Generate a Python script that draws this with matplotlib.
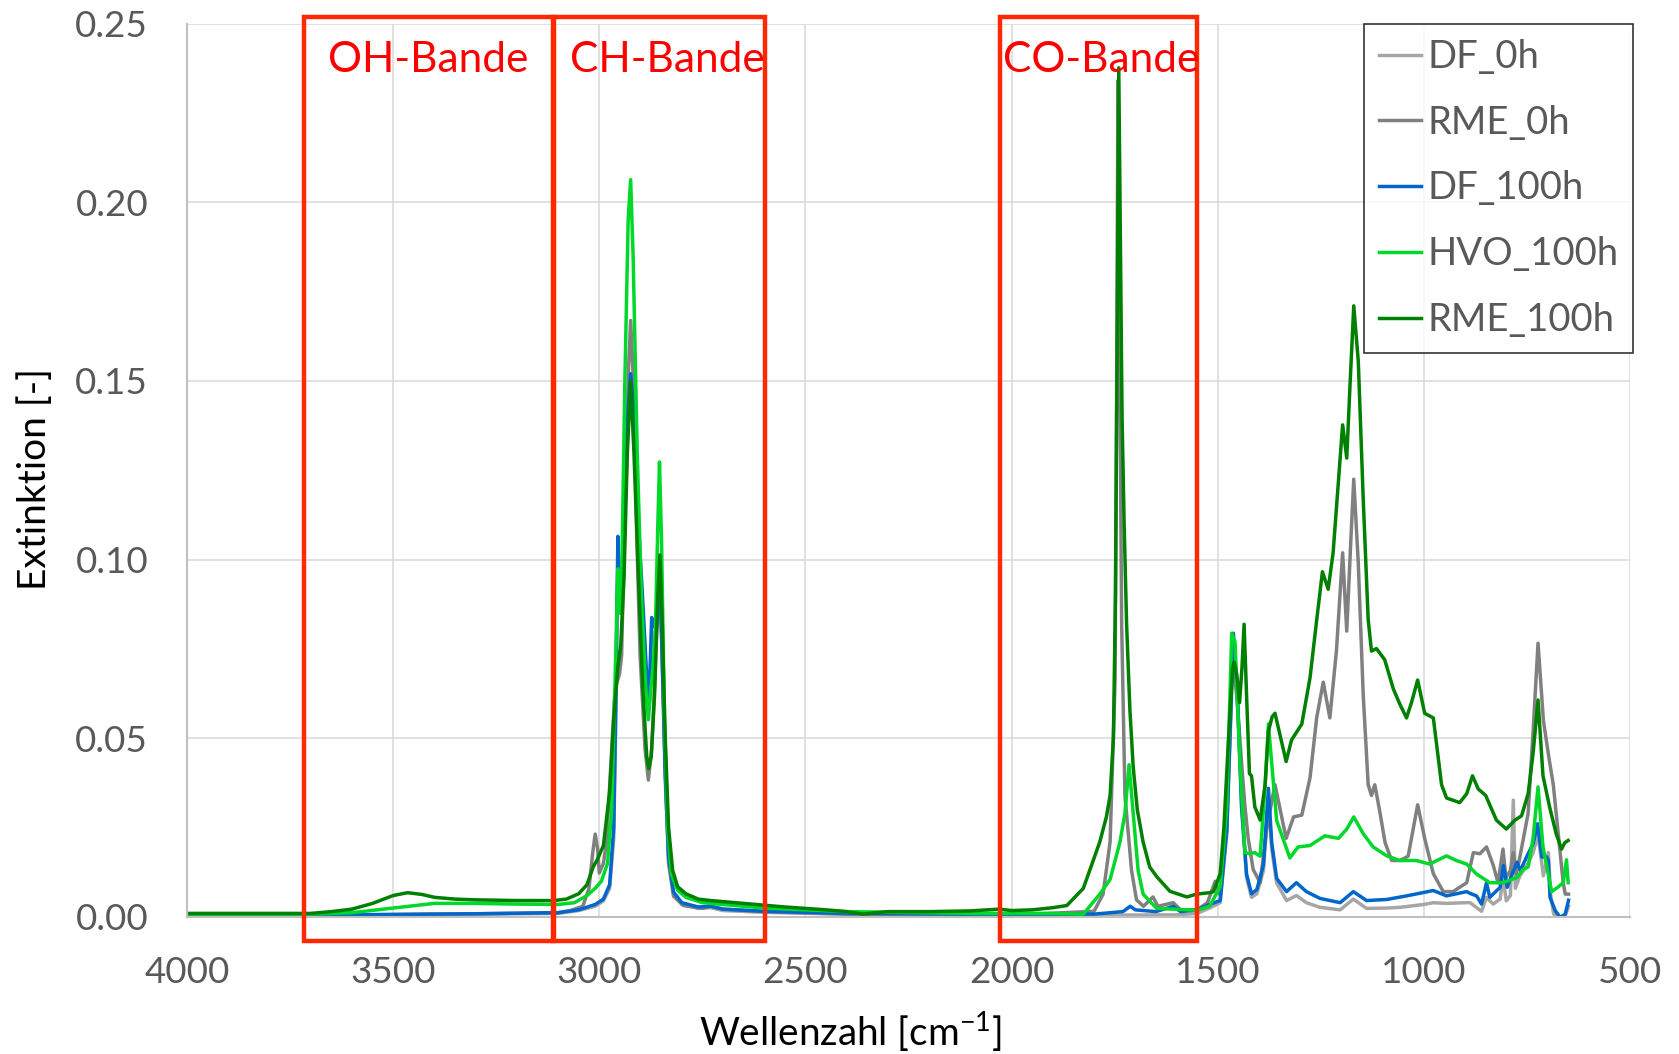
import numpy as np
import matplotlib
matplotlib.use('Agg')
import matplotlib.pyplot as plt
from matplotlib.patches import Rectangle

# spectra: (Wellenzahl [cm-1], Extinktion [-])
DF_0H = [
    (4000, 0.0004), (3700, 0.0004), (3500, 0.0006), (3300, 0.0008), (3100, 0.0010),
    (3050, 0.0018), (3010, 0.0030), (2990, 0.0045), (2975, 0.0080), (2965, 0.0220),
    (2960, 0.0550), (2955, 0.1000), (2950, 0.0850), (2945, 0.0900), (2938, 0.1120),
    (2930, 0.1380), (2924, 0.1480), (2917, 0.1380), (2905, 0.1060), (2893, 0.0820),
    (2884, 0.0620), (2879, 0.0590), (2873, 0.0800), (2868, 0.0790), (2862, 0.0770),
    (2857, 0.0880), (2853, 0.0930), (2848, 0.0730), (2840, 0.0380), (2832, 0.0160),
    (2820, 0.0065), (2800, 0.0035), (2760, 0.0024), (2730, 0.0026), (2700, 0.0018),
    (2600, 0.0013), (2400, 0.0008), (2100, 0.0005), (1800, 0.0005), (1600, 0.0006),
    (1550, 0.0010), (1520, 0.0025), (1494, 0.0040), (1478, 0.0230), (1462, 0.0760),
    (1452, 0.0600), (1442, 0.0300), (1430, 0.0110), (1418, 0.0055), (1405, 0.0065),
    (1389, 0.0130), (1377, 0.0330), (1369, 0.0190), (1357, 0.0095), (1333, 0.0046),
    (1309, 0.0060), (1285, 0.0040), (1252, 0.0027), (1203, 0.0020), (1171, 0.0050),
    (1139, 0.0024), (1090, 0.0025), (1058, 0.0027), (1000, 0.0035), (977, 0.0040),
    (945, 0.0038), (900, 0.0040), (888, 0.0040), (860, 0.0016), (848, 0.0055),
    (832, 0.0036), (815, 0.0050), (808, 0.0110), (800, 0.0045), (790, 0.0060),
    (783, 0.0327), (778, 0.0080), (767, 0.0115), (747, 0.0150), (735, 0.0180),
    (723, 0.0230), (710, 0.0115), (698, 0.0180), (692, 0.0060), (685, 0.0008),
    (670, 0.0000), (661, -0.0001), (655, 0.0010), (649, 0.0030),
]

RME_0H = [
    (4000, 0.0005), (3700, 0.0005), (3500, 0.0007), (3300, 0.0009), (3150, 0.0011),
    (3100, 0.0012), (3070, 0.0018), (3040, 0.0030), (3025, 0.0080), (3016, 0.0180),
    (3010, 0.0232), (3004, 0.0190), (3000, 0.0123), (2990, 0.0150), (2982, 0.0214),
    (2970, 0.0470), (2962, 0.0637), (2951, 0.0680), (2946, 0.0730), (2938, 0.1120),
    (2930, 0.1510), (2924, 0.1669), (2917, 0.1490), (2909, 0.1060), (2901, 0.0730),
    (2889, 0.0470), (2881, 0.0383), (2873, 0.0470), (2865, 0.0670), (2857, 0.0970),
    (2854, 0.0990), (2849, 0.0800), (2840, 0.0410), (2832, 0.0150), (2820, 0.0058),
    (2796, 0.0032), (2750, 0.0024), (2730, 0.0030), (2700, 0.0022), (2600, 0.0015),
    (2400, 0.0008), (2000, 0.0005), (1800, 0.0016), (1778, 0.0064), (1761, 0.0210),
    (1749, 0.0660), (1745, 0.1500), (1742, 0.2340), (1738, 0.1600), (1733, 0.0820),
    (1725, 0.0340), (1709, 0.0130), (1697, 0.0048), (1680, 0.0030), (1657, 0.0056),
    (1645, 0.0030), (1608, 0.0040), (1590, 0.0020), (1550, 0.0020), (1525, 0.0040),
    (1506, 0.0100), (1494, 0.0060), (1478, 0.0246), (1464, 0.0740), (1454, 0.0620),
    (1442, 0.0430), (1434, 0.0310), (1426, 0.0220), (1414, 0.0133), (1397, 0.0096),
    (1381, 0.0246), (1368, 0.0330), (1361, 0.0370), (1334, 0.0220), (1316, 0.0280),
    (1296, 0.0285), (1276, 0.0390), (1260, 0.0557), (1244, 0.0657), (1228, 0.0557),
    (1212, 0.0745), (1197, 0.1019), (1187, 0.0800), (1177, 0.1056), (1170, 0.1225),
    (1159, 0.0990), (1147, 0.0620), (1135, 0.0370), (1127, 0.0340), (1119, 0.0370),
    (1107, 0.0296), (1094, 0.0208), (1078, 0.0158), (1058, 0.0158), (1038, 0.0170),
    (1015, 0.0314), (998, 0.0220), (977, 0.0121), (953, 0.0071), (929, 0.0071),
    (896, 0.0096), (880, 0.0180), (864, 0.0177), (848, 0.0196), (832, 0.0146),
    (820, 0.0096), (808, 0.0190), (801, 0.0110), (790, 0.0130), (783, 0.0180),
    (776, 0.0120), (767, 0.0168), (747, 0.0290), (735, 0.0520), (723, 0.0766),
    (710, 0.0550), (698, 0.0456), (686, 0.0370), (674, 0.0233), (662, 0.0096),
    (657, 0.0064), (649, 0.0064),
]

DF_100H = [
    (4000, 0.0005), (3700, 0.0005), (3500, 0.0007), (3300, 0.0009), (3100, 0.0012),
    (3050, 0.0020), (3010, 0.0035), (2990, 0.0050), (2975, 0.0090), (2965, 0.0250),
    (2960, 0.0600), (2955, 0.1065), (2950, 0.0880), (2945, 0.0950), (2938, 0.1150),
    (2930, 0.1420), (2924, 0.1520), (2917, 0.1420), (2905, 0.1100), (2893, 0.0850),
    (2884, 0.0650), (2879, 0.0617), (2873, 0.0838), (2868, 0.0820), (2862, 0.0800),
    (2857, 0.0900), (2853, 0.0950), (2848, 0.0750), (2840, 0.0400), (2832, 0.0170),
    (2820, 0.0070), (2800, 0.0040), (2760, 0.0028), (2730, 0.0030), (2700, 0.0022),
    (2600, 0.0016), (2400, 0.0010), (2100, 0.0008), (1800, 0.0008), (1730, 0.0015),
    (1712, 0.0030), (1700, 0.0020), (1650, 0.0015), (1608, 0.0030), (1590, 0.0015),
    (1550, 0.0020), (1520, 0.0035), (1494, 0.0046), (1478, 0.0246), (1462, 0.0794),
    (1452, 0.0620), (1442, 0.0310), (1430, 0.0120), (1418, 0.0065), (1405, 0.0077),
    (1389, 0.0146), (1377, 0.0360), (1369, 0.0208), (1357, 0.0108), (1333, 0.0071),
    (1309, 0.0096), (1285, 0.0071), (1252, 0.0052), (1203, 0.0040), (1171, 0.0071),
    (1139, 0.0046), (1090, 0.0049), (1042, 0.0059), (977, 0.0074), (945, 0.0059),
    (896, 0.0071), (888, 0.0066), (872, 0.0059), (860, 0.0036), (848, 0.0096),
    (840, 0.0055), (815, 0.0083), (807, 0.0144), (798, 0.0083), (786, 0.0120),
    (774, 0.0153), (766, 0.0130), (747, 0.0177), (735, 0.0205), (724, 0.0261),
    (714, 0.0168), (702, 0.0168), (698, 0.0158), (694, 0.0055), (681, 0.0017),
    (669, -0.0001), (657, 0.0008), (649, 0.0047),
]

HVO_100H = [
    (4000, 0.0008), (3700, 0.0008), (3600, 0.0012), (3500, 0.0025), (3400, 0.0038),
    (3300, 0.0038), (3200, 0.0036), (3100, 0.0035), (3060, 0.0040), (3030, 0.0060),
    (3010, 0.0080), (2995, 0.0100), (2980, 0.0150), (2970, 0.0300), (2962, 0.0650),
    (2955, 0.0974), (2950, 0.0850), (2945, 0.1000), (2938, 0.1500), (2930, 0.1950),
    (2924, 0.2063), (2918, 0.1850), (2908, 0.1300), (2898, 0.0900), (2888, 0.0650),
    (2881, 0.0552), (2874, 0.0650), (2870, 0.0695), (2864, 0.0800), (2858, 0.1100),
    (2854, 0.1273), (2849, 0.1050), (2842, 0.0550), (2834, 0.0250), (2825, 0.0120),
    (2810, 0.0075), (2790, 0.0055), (2750, 0.0040), (2700, 0.0035), (2650, 0.0030),
    (2600, 0.0025), (2400, 0.0015), (2100, 0.0010), (1900, 0.0010), (1826, 0.0008),
    (1786, 0.0064), (1761, 0.0105), (1737, 0.0210), (1725, 0.0290), (1715, 0.0426),
    (1705, 0.0290), (1693, 0.0130), (1681, 0.0064), (1648, 0.0024), (1551, 0.0019),
    (1520, 0.0030), (1494, 0.0084), (1478, 0.0310), (1466, 0.0794), (1458, 0.0770),
    (1446, 0.0430), (1434, 0.0180), (1422, 0.0177), (1410, 0.0180), (1397, 0.0170),
    (1385, 0.0370), (1377, 0.0540), (1369, 0.0430), (1357, 0.0270), (1325, 0.0165),
    (1305, 0.0196), (1276, 0.0200), (1240, 0.0227), (1207, 0.0220), (1187, 0.0246),
    (1170, 0.0280), (1147, 0.0233), (1123, 0.0196), (1090, 0.0171), (1058, 0.0158),
    (1018, 0.0158), (986, 0.0148), (945, 0.0171), (921, 0.0158), (896, 0.0148),
    (872, 0.0120), (840, 0.0096), (808, 0.0096), (775, 0.0110), (759, 0.0133),
    (747, 0.0140), (735, 0.0220), (723, 0.0364), (711, 0.0196), (690, 0.0071),
    (674, 0.0084), (662, 0.0096), (654, 0.0160), (650, 0.0096),
]

RME_100H = [
    (4000, 0.0010), (3800, 0.0010), (3700, 0.0010), (3650, 0.0015), (3600, 0.0022),
    (3550, 0.0038), (3500, 0.0060), (3465, 0.0068), (3430, 0.0063), (3400, 0.0055),
    (3350, 0.0050), (3300, 0.0048), (3200, 0.0046), (3110, 0.0046), (3080, 0.0050),
    (3050, 0.0065), (3030, 0.0090), (3015, 0.0140), (3005, 0.0160), (2990, 0.0200),
    (2975, 0.0350), (2965, 0.0550), (2955, 0.0700), (2948, 0.0760), (2940, 0.0950),
    (2932, 0.1300), (2924, 0.1500), (2916, 0.1300), (2905, 0.0950), (2895, 0.0650),
    (2885, 0.0450), (2880, 0.0415), (2874, 0.0450), (2866, 0.0620), (2858, 0.0900),
    (2853, 0.1013), (2848, 0.0850), (2840, 0.0500), (2832, 0.0250), (2822, 0.0130),
    (2810, 0.0085), (2790, 0.0065), (2760, 0.0050), (2730, 0.0046), (2700, 0.0043),
    (2650, 0.0038), (2600, 0.0033), (2550, 0.0028), (2500, 0.0024), (2450, 0.0020),
    (2400, 0.0015), (2360, 0.0008), (2330, 0.0012), (2300, 0.0015), (2200, 0.0015),
    (2100, 0.0017), (2030, 0.0022), (2000, 0.0018), (1950, 0.0020), (1900, 0.0026),
    (1866, 0.0032), (1826, 0.0080), (1786, 0.0210), (1770, 0.0280), (1761, 0.0340),
    (1753, 0.0500), (1748, 0.0900), (1744, 0.1600), (1740, 0.2376), (1736, 0.1900),
    (1732, 0.1400), (1727, 0.1100), (1721, 0.0820), (1713, 0.0580), (1705, 0.0420),
    (1695, 0.0300), (1681, 0.0210), (1665, 0.0140), (1648, 0.0113), (1616, 0.0072),
    (1575, 0.0056), (1551, 0.0064), (1520, 0.0068), (1510, 0.0071), (1494, 0.0121),
    (1485, 0.0250), (1474, 0.0495), (1464, 0.0695), (1460, 0.0713), (1454, 0.0680),
    (1447, 0.0600), (1441, 0.0700), (1436, 0.0819), (1430, 0.0620), (1423, 0.0401),
    (1418, 0.0395), (1410, 0.0308), (1397, 0.0271), (1385, 0.0370), (1377, 0.0520),
    (1368, 0.0560), (1361, 0.0570), (1349, 0.0510), (1334, 0.0435), (1321, 0.0495),
    (1296, 0.0540), (1276, 0.0670), (1260, 0.0830), (1246, 0.0966), (1232, 0.0917),
    (1220, 0.1020), (1207, 0.1220), (1197, 0.1377), (1187, 0.1284), (1179, 0.1490),
    (1170, 0.1710), (1159, 0.1555), (1147, 0.1168), (1135, 0.0832), (1127, 0.0744),
    (1115, 0.0751), (1095, 0.0720), (1074, 0.0638), (1058, 0.0595), (1042, 0.0557),
    (1030, 0.0600), (1015, 0.0663), (998, 0.0570), (977, 0.0557), (957, 0.0370),
    (945, 0.0333), (913, 0.0320), (896, 0.0345), (882, 0.0395), (868, 0.0358),
    (850, 0.0340), (824, 0.0271), (800, 0.0246), (779, 0.0271), (763, 0.0283),
    (747, 0.0345), (735, 0.0458), (723, 0.0607), (711, 0.0395), (695, 0.0308),
    (679, 0.0233), (666, 0.0190), (658, 0.0208), (650, 0.0214),
]

SERIES = [DF_0H, RME_0H, DF_100H, HVO_100H, RME_100H]
SERIES_NAMES = ['DF_0h', 'RME_0h', 'DF_100h', 'HVO_100h', 'RME_100h']
SERIES_COLORS = ['#A6A6A6', '#808080', '#0066CC', '#00D82A', '#008000']

# marked absorption bands: label, upper and lower wavenumber, label position
BANDS = [('OH-Bande', 3717, 3111, 3415),
         ('CH-Bande', 3112, 2597, 2836),
         ('CO-Bande', 2028, 1550, 1782)]

X_TICKS = [4000, 3500, 3000, 2500, 2000, 1500, 1000, 500]
Y_TICKS = [0.00, 0.05, 0.10, 0.15, 0.20, 0.25]

plt.rcParams['font.family'] = ['Lato', 'DejaVu Sans']
plt.rcParams['mathtext.fontset'] = 'custom'
plt.rcParams['mathtext.rm'] = 'Lato'


def draw_bands(ax, bands):
    '''
    Red frames with a caption around the marked bands
    @param ax: matplotlib Axes
    @param bands: list of (label, start, end, label_x)
    @return: None
    '''
    y0, y1 = -0.0068, 0.2519
    for label, start, end, label_x in bands:
        rect = Rectangle((start, y0), end - start, y1 - y0, fill=False,
                         edgecolor='#FF2800', linewidth=3.2, clip_on=False, zorder=5)
        ax.add_patch(rect)
        ax.text(label_x, 0.2398, label, color='#FF0000', fontsize=30.5,
                ha='center', va='center', zorder=6)


def spectrum_plot(series, names, colors):
    '''
    Plot the FTIR spectra with inverted wavenumber axis
    @param series: list of lists of (wavenumber, extinction)
    @param names: list of str, legend labels
    @param colors: list of colors
    @return: Figure
    '''
    fig, ax = plt.subplots(figsize=(16.79, 10.54), dpi=100)
    fig.subplots_adjust(left=0.1114, right=0.9708, bottom=0.130, top=0.9777)

    for data, name, color in zip(series, names, colors):
        arr = np.array(data)
        ax.plot(arr[:, 0], arr[:, 1], color=color, linewidth=2.5, label=name,
                solid_joinstyle='round')

    ax.set_xlim(4000, 500)
    ax.set_ylim(0, 0.25)
    ax.set_xticks(X_TICKS)
    ax.set_yticks(Y_TICKS)
    ax.set_yticklabels(['%.2f' % v for v in Y_TICKS])
    ax.tick_params(length=0, labelsize=26.5, labelcolor='#595959')
    ax.tick_params(axis='y', pad=28)
    ax.tick_params(axis='x', pad=28)
    ax.grid(True, color='#D9D9D9', linewidth=1.1)
    ax.set_axisbelow(True)
    for side in ['top', 'right']:
        ax.spines[side].set_visible(False)
    for side in ['left', 'bottom']:
        ax.spines[side].set_color('#BFBFBF')
        ax.spines[side].set_linewidth(1.5)

    ax.set_xlabel(r'Wellenzahl [cm$^{\mathregular{-1}}$]', fontsize=27.8, color='#000000')
    ax.set_ylabel('Extinktion [-]', fontsize=28, color='#000000')
    ax.xaxis.set_label_coords(0.46, -0.104)
    ax.yaxis.set_label_coords(-0.093, 0.4907)

    draw_bands(ax, BANDS)

    leg = ax.legend(loc='upper right', bbox_to_anchor=(1.002, 0.999), borderaxespad=0,
                    fontsize=27.5, frameon=True, fancybox=False, edgecolor='black',
                    handlelength=1.12, handletextpad=0.15, labelspacing=0.78,
                    borderpad=0.38)
    leg.get_frame().set_linewidth(1.2)
    leg.set_zorder(7)
    for text in leg.get_texts():
        text.set_color('#595959')
    return fig


fig = spectrum_plot(SERIES, SERIES_NAMES, SERIES_COLORS)
fig.savefig('out.png', dpi=100)
